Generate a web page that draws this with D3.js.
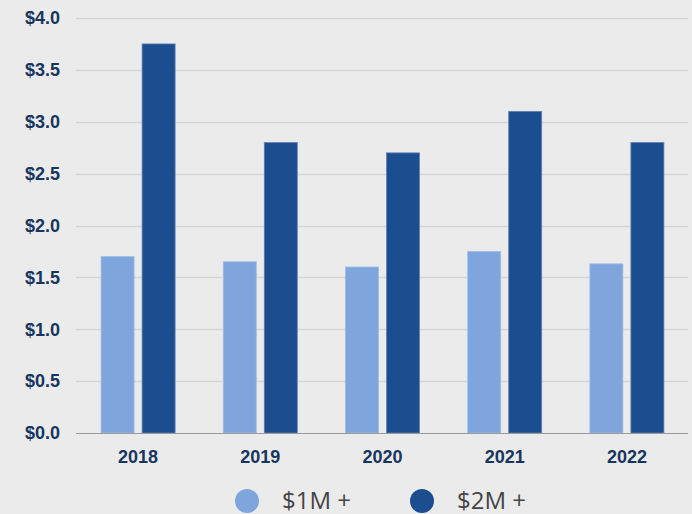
<!DOCTYPE html>
<html>
<head>
<meta charset="utf-8">
<script src="https://cdn.jsdelivr.net/npm/d3@7"></script>
<style>
  html, body { margin: 0; padding: 0; background: #ebebeb; }
</style>
</head>
<body>
<div id="vizcontainer"></div>
<script>
const years = ['2018', '2019', '2020', '2021', '2022'];
const plus1M = [1.70, 1.65, 1.60, 1.75, 1.63];
const plus2M = [3.75, 2.80, 2.70, 3.10, 2.80];
const seriesNames = ['$1M +', '$2M +'];
const seriesColors = ['#7ea6dd', '#1b4d8f'];
const yTicks = [0, 0.5, 1, 1.5, 2, 2.5, 3, 3.5, 4];

const
  width = 692,
  height = 514;

const margin = { top: 18, right: 4, bottom: 81, left: 77 };

let viz = d3.select('#vizcontainer')
  .append('svg')
  .attr('width', width)
  .attr('height', height)
  .style('display', 'block')
  .style('background', '#ebebeb');

const x = d3.scaleBand()
  .domain(years)
  .range([margin.left, width - margin.right])
  .paddingInner(0)
  .paddingOuter(0);

const xSub = d3.scaleBand()
  .domain([0, 1])
  .range([x.bandwidth() / 2 - 37, x.bandwidth() / 2 + 37])
  .paddingInner(8 / 41);

const y = d3.scaleLinear()
  .domain([0, 4])
  .range([height - margin.bottom, margin.top]);

// gridlines
viz.append('g')
  .selectAll('line')
  .data(yTicks.filter(d => d > 0))
  .join('line')
  .attr('x1', margin.left - 1)
  .attr('x2', width - margin.right)
  .attr('y1', d => Math.round(y(d)) + 0.5)
  .attr('y2', d => Math.round(y(d)) + 0.5)
  .attr('stroke', '#d5d5d5')
  .attr('stroke-width', 1.5);

// y labels
viz.append('g')
  .selectAll('text')
  .data(yTicks)
  .join('text')
  .attr('x', 60)
  .attr('y', d => y(d))
  .attr('dy', '0.35em')
  .attr('text-anchor', 'end')
  .attr('font-family', 'Liberation Sans, Arial, sans-serif')
  .attr('font-weight', 'bold')
  .attr('font-size', 18)
  .attr('fill', '#17365f')
  .text(d => '$' + d3.format('.1f')(d));

// bars
const groups = viz.append('g')
  .selectAll('g')
  .data(years.map((yr, i) => ({ year: yr, vals: [plus1M[i], plus2M[i]] })))
  .join('g')
  .attr('transform', d => `translate(${x(d.year)},0)`);

groups.selectAll('rect')
  .data(d => d.vals.map((v, k) => ({ k, v })))
  .join('rect')
  .attr('x', d => xSub(d.k))
  .attr('width', xSub.bandwidth())
  .attr('y', d => y(d.v))
  .attr('height', d => y(0) - y(d.v))
  .attr('fill', d => seriesColors[d.k])
  .attr('stroke', d => d.k === 0 ? '#9dbbe6' : '#5f82b5')
  .attr('stroke-width', 0.8);

// baseline
viz.append('line')
  .attr('x1', margin.left - 1)
  .attr('x2', width - margin.right)
  .attr('y1', y(0) + 0.5)
  .attr('y2', y(0) + 0.5)
  .attr('stroke', '#9a9a9a')
  .attr('stroke-width', 1.2);

// x labels
viz.append('g')
  .selectAll('text')
  .data(years)
  .join('text')
  .attr('x', d => x(d) + x.bandwidth() / 2)
  .attr('y', 463)
  .attr('text-anchor', 'middle')
  .attr('font-family', 'Liberation Sans, Arial, sans-serif')
  .attr('font-weight', 'bold')
  .attr('font-size', 18)
  .attr('fill', '#17365f')
  .text(d => d);

// legend
const legX = [247, 422];
const legend = viz.append('g')
  .selectAll('g')
  .data(seriesNames)
  .join('g')
  .attr('transform', (d, i) => `translate(${legX[i]},501)`);

legend.append('circle')
  .attr('r', 12)
  .attr('fill', (d, i) => seriesColors[i]);

legend.append('text')
  .attr('x', 35)
  .attr('y', 0)
  .attr('dy', '0.35em')
  .attr('font-family', 'Open Sans, Liberation Sans, sans-serif')
  .attr('font-size', 24)
  .attr('fill', '#444')
  .text(d => d);
</script>
</body>
</html>
